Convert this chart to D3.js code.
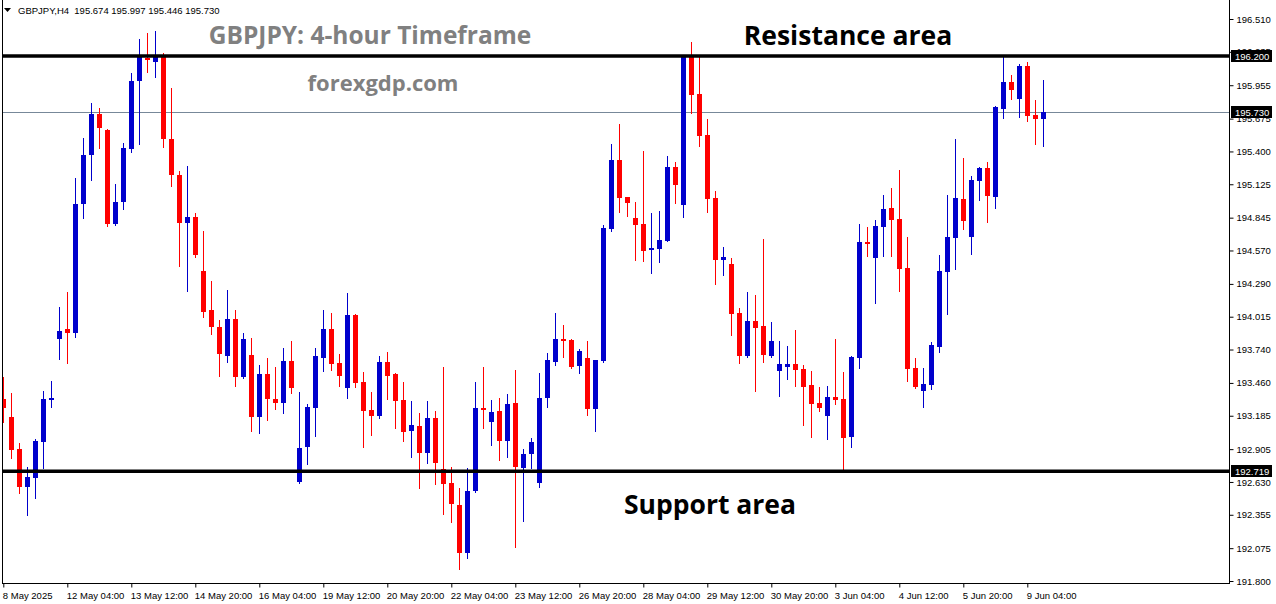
<!DOCTYPE html>
<html>
<head>
<meta charset="utf-8">
<script src="https://cdn.jsdelivr.net/npm/d3@7"></script>
<style>
  html, body { margin: 0; padding: 0; background: #fff; }
  svg { display: block; }
</style>
</head>
<body>
<svg id="chart" width="1276" height="604"></svg>
<script>
// ---- DATA (GBPJPY H4) ----
const symbol = "GBPJPY,H4";
const open = [193.325,193.174,192.906,192.587,192.663,192.965,193.325,193.828,193.912,193.878,
194.959,195.370,195.714,195.579,194.792,194.976,195.420,195.990,196.187,196.149,
196.191,195.504,195.202,194.800,194.850,194.398,194.071,193.928,193.685,193.995,
193.509,193.694,193.174,193.535,193.325,193.291,193.643,192.629,192.923,193.250,
193.669,193.912,193.627,193.417,194.029,193.467,193.233,193.183,193.635,193.535,
193.317,193.057,193.099,192.872,193.166,192.738,192.621,192.437,192.034,192.554,
193.250,193.132,193.224,192.973,193.291,192.747,192.864,192.621,193.333,193.635,
193.828,193.819,193.602,193.669,193.241,193.643,194.750,195.328,195.018,194.842,
194.792,194.574,194.582,194.649,195.269,194.951,196.191,195.881,195.538,195.010,
194.490,194.456,194.046,193.685,193.979,193.937,193.685,193.560,193.593,193.618,
193.576,193.442,193.291,193.183,193.342,193.325,193.007,193.669,194.641,194.507,
194.767,194.926,194.833,194.423,193.585,193.392,193.442,193.761,194.389,194.674,
195.001,194.683,195.152,195.261,195.018,195.755,195.982,195.839,196.116,195.705,
195.674];
const high = [193.509,193.375,192.956,192.755,192.990,193.392,193.476,194.096,194.222,195.177,
195.512,195.806,195.764,195.588,195.127,195.471,196.057,196.342,196.392,196.409,
196.225,195.931,195.236,195.278,194.884,194.733,194.314,193.987,194.239,194.071,
193.878,193.836,193.610,193.669,193.593,193.752,193.811,193.384,193.283,193.752,
194.071,194.046,193.702,194.213,194.035,193.551,193.384,193.685,193.719,193.540,
193.467,193.308,193.208,193.308,193.224,193.593,192.755,192.579,192.747,193.467,
193.593,193.317,193.333,193.367,193.568,192.906,192.998,193.543,193.711,194.046,
193.945,193.828,193.744,193.811,193.652,194.783,195.462,195.630,195.018,194.976,
195.403,194.884,194.901,195.362,195.311,196.205,196.317,196.191,195.672,195.068,
194.599,194.507,194.088,194.222,194.197,194.666,193.970,193.811,193.769,193.903,
193.610,193.560,193.426,193.434,193.828,193.551,193.685,194.792,194.767,194.825,
195.035,195.093,195.244,194.683,193.669,193.585,193.803,194.532,195.035,195.504,
195.345,195.194,195.269,195.311,195.781,196.191,196.040,196.133,196.149,195.831,
195.997];
const low = [193.132,192.830,192.537,192.353,192.495,192.747,193.258,193.660,193.627,193.845,
194.842,195.160,195.429,194.775,194.780,194.917,195.395,195.462,196.066,196.024,
195.437,195.110,194.440,194.230,194.515,194.012,193.870,193.518,193.635,193.434,
193.500,193.057,193.040,193.149,193.241,193.208,193.375,192.620,192.780,193.015,
193.560,193.568,193.434,193.333,193.426,192.923,193.023,193.166,193.325,193.082,
192.973,192.839,192.579,192.789,192.613,192.361,192.294,191.900,191.992,192.546,
193.082,192.939,192.814,192.839,192.085,192.303,192.747,192.587,193.258,193.610,
193.677,193.585,193.543,193.191,193.057,193.635,194.733,194.892,194.859,194.490,
194.482,194.381,194.473,194.649,194.968,194.850,195.722,195.445,194.892,194.289,
194.364,193.861,193.627,193.677,193.392,193.635,193.677,193.350,193.493,193.434,
193.107,193.007,193.224,192.990,193.283,192.730,192.923,193.585,194.523,194.130,
194.523,194.523,194.230,193.476,193.417,193.258,193.409,193.719,194.037,194.415,
194.750,194.540,194.993,194.808,194.926,195.680,195.839,195.688,195.655,195.462,
195.446];
const close = [193.250,192.898,192.587,192.671,192.973,193.325,193.333,193.895,193.878,194.959,
195.370,195.714,195.596,194.792,194.976,195.429,195.990,196.191,196.180,196.191,
195.504,195.202,194.800,194.850,194.532,194.054,193.928,193.702,193.995,193.509,
193.828,193.174,193.535,193.325,193.291,193.643,193.417,192.914,193.258,193.685,
193.912,193.618,193.518,194.029,193.459,193.224,193.183,193.635,193.518,193.308,
193.048,193.107,192.872,193.166,192.789,192.613,192.445,192.034,192.554,193.250,
193.237,193.216,192.973,193.283,192.755,192.864,192.965,193.333,193.652,193.828,
193.811,193.593,193.727,193.241,193.652,194.758,195.328,195.010,194.968,194.783,
194.565,194.591,194.658,195.269,195.119,196.191,195.873,195.529,195.001,194.490,
194.515,194.037,193.685,193.979,193.920,193.694,193.811,193.618,193.618,193.568,
193.426,193.283,193.250,193.342,193.317,192.998,193.677,194.641,194.633,194.775,
194.917,194.825,194.415,193.576,193.426,193.451,193.778,194.398,194.683,195.010,
194.817,195.160,195.261,195.026,195.772,195.982,195.915,196.116,195.697,195.674,
195.730];

const xTickIndex = [0,8,16,24,32,40,48,56,64,72,80,88,96,104,112,120,128];
const xTickLabels = ["8 May 2025","12 May 04:00","13 May 12:00","14 May 20:00","16 May 04:00",
  "19 May 12:00","20 May 20:00","22 May 04:00","23 May 12:00","26 May 20:00","28 May 04:00",
  "29 May 12:00","30 May 20:00","3 Jun 04:00","4 Jun 12:00","5 Jun 20:00","9 Jun 04:00"];
const yTickValues = [196.510,196.235,195.955,195.675,195.400,195.125,194.845,194.570,194.290,
  194.015,193.740,193.460,193.185,192.905,192.630,192.355,192.075,191.800];

const resistanceLevel = 196.200;
const supportLevel = 192.719;
const bidLevel = 195.730;

const titleText = "GBPJPY: 4-hour Timeframe";
const siteText = "forexgdp.com";
const resistanceText = "Resistance area";
const supportText = "Support area";

// ---- LAYOUT ----
const W = 1276, H = 604;
const plotL = 2, plotR = 1229, plotT = 0, plotB = 583;
const BULL = "#0000cc", BEAR = "#ff0000";
const axisFont = "'Liberation Sans', Arial, sans-serif";
const axisSize = 9.5;

const svg = d3.select("#chart");
svg.append("rect").attr("width", W).attr("height", H).attr("fill", "#fff");

const n = open.length;
const x = d3.scaleLinear().domain([0, n - 1]).range([3.3, 3.3 + 8 * (n - 1)]);
const y = d3.scaleLinear().domain([191.800, 196.510]).range([581, 19]);

svg.append("defs").append("clipPath").attr("id", "plotClip")
  .append("rect").attr("x", plotL + 1).attr("y", plotT).attr("width", plotR - plotL - 1).attr("height", plotB - plotT);

const plot = svg.append("g").attr("clip-path", "url(#plotClip)");

// bid line (thin slate)
plot.append("line")
  .attr("x1", plotL).attr("x2", plotR)
  .attr("y1", Math.round(y(bidLevel)) + 0.5).attr("y2", Math.round(y(bidLevel)) + 0.5)
  .attr("stroke", "#778899").attr("stroke-width", 1);

// candles
const idx = d3.range(n);
const cg = plot.append("g").attr("shape-rendering", "crispEdges");
cg.selectAll("line.wick").data(idx).join("line")
  .attr("class", "wick")
  .attr("x1", i => Math.round(x(i)) + 0.5).attr("x2", i => Math.round(x(i)) + 0.5)
  .attr("y1", i => Math.round(y(high[i]))).attr("y2", i => Math.round(y(low[i])) + 1)
  .attr("stroke", i => close[i] >= open[i] ? BULL : BEAR).attr("stroke-width", 1);
cg.selectAll("rect.body").data(idx).join("rect")
  .attr("class", "body")
  .attr("x", i => Math.round(x(i)) - 2)
  .attr("width", 5)
  .attr("y", i => Math.round(y(Math.max(open[i], close[i]))))
  .attr("height", i => Math.max(2, Math.round(y(Math.min(open[i], close[i]))) - Math.round(y(Math.max(open[i], close[i])))))
  .attr("fill", i => close[i] >= open[i] ? BULL : BEAR);

// support / resistance lines
[resistanceLevel, supportLevel].forEach(v => {
  plot.append("line")
    .attr("x1", plotL).attr("x2", plotR)
    .attr("y1", y(v)).attr("y2", y(v))
    .attr("stroke", "#000").attr("stroke-width", 3.5);
});

// frame
svg.append("line").attr("x1", plotL + 0.5).attr("x2", plotL + 0.5).attr("y1", 0).attr("y2", plotB)
  .attr("stroke", "#000").attr("stroke-width", 1);

// right axis
const yAxis = d3.axisRight(y).tickValues(yTickValues).tickSize(4).tickPadding(3)
  .tickFormat(d3.format(".3f"));
const ya = svg.append("g").attr("transform", `translate(${plotR + 0.5},0)`).call(yAxis);
ya.select(".domain").remove();
ya.selectAll("text").attr("font-family", axisFont).attr("font-size", axisSize).attr("fill", "#000");
ya.selectAll("line").attr("stroke", "#000");
svg.append("line").attr("x1", plotR + 0.5).attr("x2", plotR + 0.5).attr("y1", 0).attr("y2", plotB + 1)
  .attr("stroke", "#000");

// bottom axis
const xAxis = d3.axisBottom(x).tickValues(xTickIndex).tickSize(4)
  .tickFormat((d, i) => xTickLabels[i]);
const xa = svg.append("g").attr("transform", `translate(0,${plotB + 0.5})`).call(xAxis);
xa.select(".domain").remove();
xa.selectAll(".tick line").attr("stroke", "#000");
xa.selectAll("text").attr("font-family", axisFont).attr("font-size", axisSize).attr("fill", "#000")
  .attr("text-anchor", "start").attr("dx", -1).attr("dy", "0.9em");
svg.append("line").attr("x1", plotL).attr("x2", plotR + 1).attr("y1", plotB + 0.5).attr("y2", plotB + 0.5)
  .attr("stroke", "#000");

// price label boxes on axis
function priceBox(v) {
  const yy = Math.round(y(v));
  svg.append("rect").attr("x", plotR + 2).attr("y", yy - 6).attr("width", 41).attr("height", 12).attr("fill", "#000");
  svg.append("text").attr("x", plotR + 6).attr("y", yy + 4).text(v.toFixed(3))
    .attr("font-family", axisFont).attr("font-size", axisSize).attr("fill", "#fff");
}
priceBox(resistanceLevel);
priceBox(bidLevel);
priceBox(supportLevel);

// header
svg.append("path").attr("d", "M4,8 L11,8 L7.5,12 Z").attr("fill", "#000");
svg.append("text").attr("x", 18).attr("y", 14)
  .text(`${symbol}  ${open[n-1].toFixed(3)} ${high[n-1].toFixed(3)} ${low[n-1].toFixed(3)} ${close[n-1].toFixed(3)}`)
  .attr("font-family", axisFont).attr("font-size", axisSize).attr("fill", "#000")
  .style("white-space", "pre");

// annotations
const bigFont = "'Open Sans', 'Noto Sans', sans-serif";
svg.append("text").attr("x", 370).attr("y", 44).attr("text-anchor", "middle").text(titleText)
  .attr("font-family", bigFont).attr("font-weight", 700).attr("font-size", 24.5).attr("fill", "#808080");
svg.append("text").attr("x", 383).attr("y", 91).attr("text-anchor", "middle").text(siteText)
  .attr("font-family", bigFont).attr("font-weight", 700).attr("font-size", 22).attr("fill", "#808080");
svg.append("text").attr("x", 848).attr("y", 45).attr("text-anchor", "middle").text(resistanceText)
  .attr("font-family", bigFont).attr("font-weight", 700).attr("font-size", 26.5).attr("fill", "#000");
svg.append("text").attr("x", 710).attr("y", 514).attr("text-anchor", "middle").text(supportText)
  .attr("font-family", bigFont).attr("font-weight", 700).attr("font-size", 26.5).attr("fill", "#000");
</script>
</body>
</html>
